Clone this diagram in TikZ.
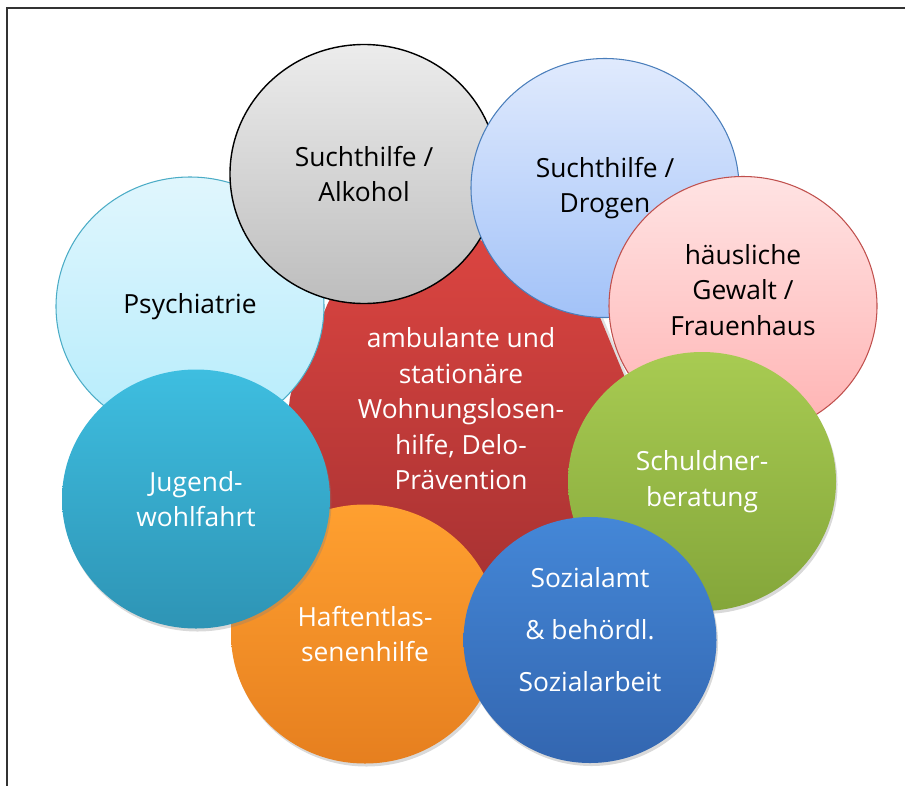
\documentclass[tikz,border=0pt]{standalone}
\usepackage{fontspec}
\setmainfont{Open Sans}
\usepackage{xcolor}
\usepackage{tikz}
\usetikzlibrary{shapes.geometric,shadows}

\definecolor{hubtop}{HTML}{DC4541}\definecolor{hubbot}{HTML}{A83232}
\definecolor{psytop}{HTML}{E0F6FD}\definecolor{psybot}{HTML}{B5ECFC}\definecolor{psyline}{HTML}{4BACC6}
\definecolor{alktop}{HTML}{ECECEC}\definecolor{alkbot}{HTML}{BDBDBD}
\definecolor{drogtop}{HTML}{E0EAFD}\definecolor{drogbot}{HTML}{A2C2F8}\definecolor{drogline}{HTML}{4A7EBB}
\definecolor{gewtop}{HTML}{FFE3E3}\definecolor{gewbot}{HTML}{FFB2B2}\definecolor{gewline}{HTML}{C0504D}
\definecolor{schtop}{HTML}{A8CB52}\definecolor{schbot}{HTML}{84A63A}
\definecolor{soztop}{HTML}{4487D7}\definecolor{sozbot}{HTML}{3366B0}
\definecolor{hafttop}{HTML}{FFA030}\definecolor{haftbot}{HTML}{E67F1F}
\definecolor{jugtop}{HTML}{3EBEE0}\definecolor{jugbot}{HTML}{2E94B5}

\begin{document}
\begin{tikzpicture}[
  txt/.style={align=center,font=\fontsize{15}{20.2}\selectfont},
  bubble/.style={ellipse,minimum width=5.36cm,minimum height=5.18cm,inner sep=0pt,txt},
  pale/.style={bubble,draw=#1,line width=0.6pt},
  bold/.style={bubble,text=white,drop shadow={opacity=0.3,shadow xshift=0.03cm,shadow yshift=-0.06cm}}]
\useasboundingbox (0,0) rectangle (18.1,-15.7);
\draw[line width=1.6pt,black!80] (0.14,-15.9)--(0.14,-0.16)--(18.3,-0.16);
% centre
\node[regular polygon,regular polygon sides=8,shape border rotate=22.5,minimum size=7.08cm,rounded corners=0.45cm,
  top color=hubtop,bottom color=hubbot,text=white,txt,drop shadow={opacity=0.25}] (hub) at (9.22,-8.18)
  {ambulante und\\stationäre\\Wohnungslosen-\\hilfe, Delo-\\Prävention};
% ring
\node[pale=psyline,top color=psytop,bottom color=psybot] (psych) at (3.80,-6.13) {Psychiatrie};
\node[pale=black,line width=0.8pt,top color=alktop,bottom color=alkbot] (alk) at (7.28,-3.48) {Suchthilfe /\\Alkohol};
\node[pale=drogline,top color=drogtop,bottom color=drogbot] (drog) at (12.10,-3.76) {Suchthilfe /\\Drogen};
\node[pale=gewline,top color=gewtop,bottom color=gewbot] (gewalt) at (14.86,-6.12) {};
\node[txt] (gewalt text) at ([yshift=0.32cm]gewalt.center) {häusliche\\Gewalt /\\Frauenhaus};
\node[bold,top color=schtop,bottom color=schbot] (schuld) at (14.04,-9.63) {Schuldner-\\beratung};
\node[bold,top color=hafttop,bottom color=haftbot] (haft) at (7.30,-12.68) {Haftentlas-\\senenhilfe};
\node[bold,top color=jugtop,bottom color=jugbot] (jugend) at (3.92,-9.98) {Jugend-\\wohlfahrt};
\node[bold,minimum width=5.06cm,minimum height=4.92cm,top color=soztop,bottom color=sozbot] (sozial) at (11.80,-12.80) {};
\node[txt,text=white,font=\fontsize{15}{29.6}\selectfont] (sozial text) at ([yshift=0.2cm]sozial.center) {Sozialamt\\\& behördl.\\Sozialarbeit};
\end{tikzpicture}
\end{document}
